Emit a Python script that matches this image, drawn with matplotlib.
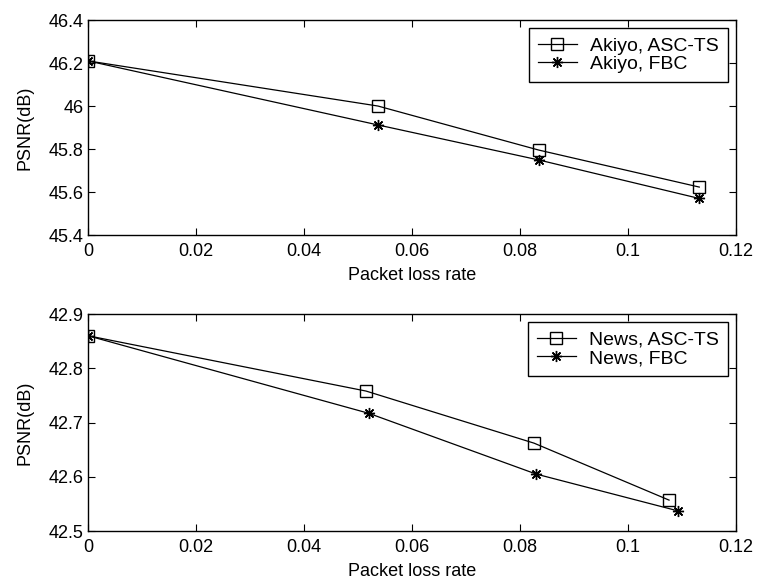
import numpy as np
import matplotlib.pyplot as plt

plt.rcParams['font.family'] = ['Liberation Sans', 'DejaVu Sans']

# Akiyo sequence
akiyo_loss = [0.0, 0.0537, 0.0835, 0.1132]
akiyo_asc = [46.21, 46.00, 45.795, 45.623]
akiyo_fbc = [46.21, 45.912, 45.749, 45.570]

# News sequence
news_loss_asc = [0.0, 0.0515, 0.0826, 0.1076]
news_asc = [42.86, 42.758, 42.662, 42.557]
news_loss_fbc = [0.0, 0.052, 0.083, 0.1093]
news_fbc = [42.86, 42.717, 42.605, 42.537]

FS = 13
STAR = (8, 2, 0)  # asterisk like MATLAB '*' (+ and x overlaid)


def style_axes(ax, ylim, yticks):
    ax.set_xlim(0, 0.12)
    ax.set_ylim(*ylim)
    ax.set_xticks(np.arange(0, 0.121, 0.02))
    ax.set_xticklabels(['0', '0.02', '0.04', '0.06', '0.08', '0.1', '0.12'])
    ax.set_yticks(yticks)
    ax.tick_params(direction='in', top=True, right=True, length=5, labelsize=FS)
    ax.tick_params(axis='x', pad=5.5)
    ax.tick_params(axis='y', pad=3)
    ax.set_xlabel('Packet loss rate', fontsize=FS, labelpad=5)
    ax.set_ylabel('PSNR(dB)', fontsize=FS, labelpad=11)
    for s in ax.spines.values():
        s.set_linewidth(1.0)


def add_legend(ax):
    leg = ax.legend(loc='upper right', fontsize=14, fancybox=False, edgecolor='black', framealpha=1,
                    borderaxespad=0.42, handlelength=2.0, handletextpad=0.7, labelspacing=0.05,
                    borderpad=0.45)
    leg.get_frame().set_linewidth(1.0)


fig = plt.figure(figsize=(7.58, 5.81), dpi=100)

ax1 = fig.add_axes([0.116, 0.5955, 0.855, 0.370])
ax1.plot(akiyo_loss, akiyo_asc, 'k-', marker='s', markerfacecolor='none', markersize=9, linewidth=0.9, label='Akiyo, ASC-TS')
ax1.plot(akiyo_loss, akiyo_fbc, 'k-', marker=STAR, markersize=8, markeredgewidth=1.0, linewidth=0.9, label='Akiyo, FBC')
style_axes(ax1, (45.4, 46.4), [45.4, 45.6, 45.8, 46.0, 46.2, 46.4])
ax1.set_yticklabels(['45.4', '45.6', '45.8', '46', '46.2', '46.4'])
add_legend(ax1)

ax2 = fig.add_axes([0.116, 0.086, 0.855, 0.3735])
ax2.plot(news_loss_asc, news_asc, 'k-', marker='s', markerfacecolor='none', markersize=9, linewidth=0.9, label='News, ASC-TS')
ax2.plot(news_loss_fbc, news_fbc, 'k-', marker=STAR, markersize=8, markeredgewidth=1.0, linewidth=0.9, label='News, FBC')
style_axes(ax2, (42.5, 42.9), [42.5, 42.6, 42.7, 42.8, 42.9])
add_legend(ax2)

fig.savefig('out.png', dpi=100)
